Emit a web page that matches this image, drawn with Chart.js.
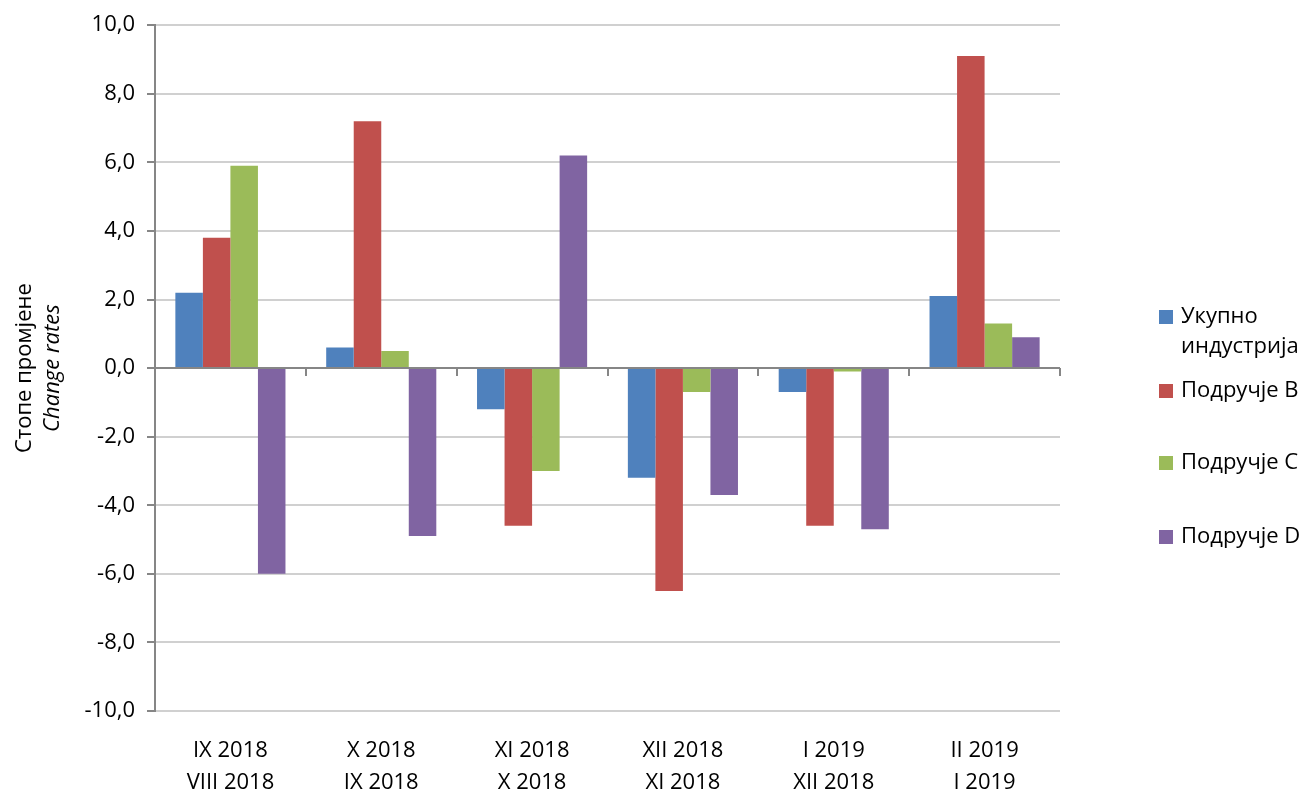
<!DOCTYPE html>
<html>
<head>
<meta charset="utf-8">
<script src="https://cdn.jsdelivr.net/npm/chart.js@4/dist/chart.umd.min.js"></script>
<style>
  html, body { margin: 0; padding: 0; background: #fff; }
  #wrap { width: 1309px; height: 789px; }
</style>
</head>
<body>
<div id="wrap"><canvas id="chart" width="1309" height="789"></canvas></div>
<script>
// data
const categories = [
  ['IX 2018', 'VIII 2018'],
  ['X 2018', 'IX 2018'],
  ['XI 2018', 'X 2018'],
  ['XII 2018', 'XI 2018'],
  ['I 2019', 'XII 2018'],
  ['II 2019', 'I 2019']
];
const seriesNames = [['Укупно', 'индустрија'], ['Подручје B'], ['Подручје C'], ['Подручје D']];
const totalIndustry = [2.2, 0.6, -1.2, -3.2, -0.7, 2.1];
const areaB = [3.8, 7.2, -4.6, -6.5, -4.6, 9.1];
const areaC = [5.9, 0.5, -3.0, -0.7, -0.1, 1.3];
const areaD = [-6.0, -4.9, 6.2, -3.7, -4.7, 0.9];
const colors = ['#4F81BD', '#C0504D', '#9BBB59', '#8064A2'];
const yTitle = ['Стопе промјене', 'Change rates'];

const FONT = "'Open Sans', sans-serif";
const axisGrey = '#868686';
const gridGrey = '#d0d0d0';

// y axis title (two lines, second italic), legend, and small ticks on the zero line
const extras = {
  id: 'extras',
  afterDraw(chart) {
    const ctx = chart.ctx;
    const area = chart.chartArea;
    const x = chart.scales.x, y = chart.scales.y;
    const y0 = y.getPixelForValue(0);

    // category ticks on the zero line
    ctx.save();
    ctx.strokeStyle = axisGrey;
    ctx.lineWidth = 2;
    for (let i = 1; i <= categories.length; i++) {
      const px = Math.round((x.getPixelForValue(i - 1) + x.getPixelForValue(i)) / 2);
      const xx = i === categories.length ? area.right : px;
      ctx.beginPath();
      ctx.moveTo(xx, y0);
      ctx.lineTo(xx, y0 + 8);
      ctx.stroke();
    }
    ctx.restore();

    // y title
    const midY = (area.top + area.bottom) / 2;
    ctx.save();
    ctx.translate(25, midY);
    ctx.rotate(-Math.PI / 2);
    ctx.fillStyle = '#000';
    ctx.textAlign = 'center';
    ctx.textBaseline = 'middle';
    ctx.font = '22px ' + FONT;
    ctx.fillText(yTitle[0], 0, 0);
    ctx.font = 'italic 22px ' + FONT;
    ctx.fillText(yTitle[1], 0, 28);
    ctx.restore();

    // legend
    const rowsY = [317, 391, 463, 537];
    ctx.save();
    ctx.font = '22px ' + FONT;
    ctx.textBaseline = 'middle';
    ctx.textAlign = 'left';
    chart.data.datasets.forEach((ds, i) => {
      ctx.fillStyle = ds.backgroundColor;
      ctx.fillRect(1159, rowsY[i] - 7, 14, 14);
      ctx.fillStyle = '#000';
      seriesNames[i].forEach((line, j) => {
        ctx.fillText(line, 1181, rowsY[i] + j * 30);
      });
    });
    ctx.restore();
  }
};

const datasets = [totalIndustry, areaB, areaC, areaD].map((vals, i) => ({
  label: seriesNames[i].join(' '),
  data: vals,
  backgroundColor: colors[i],
  borderWidth: 0,
  categoryPercentage: 0.73,
  barPercentage: 1.0
}));

new Chart(document.getElementById('chart'), {
  type: 'bar',
  data: { labels: categories, datasets: datasets },
  plugins: [extras],
  options: {
    responsive: false,
    animation: false,
    layout: { padding: { top: 25, right: 249, left: 0, bottom: 0 } },
    plugins: {
      legend: { display: false },
      tooltip: { enabled: false }
    },
    scales: {
      x: {
        grid: { display: false },
        border: { display: false },
        ticks: { color: '#000', font: { family: FONT, size: 22, lineHeight: 1.45 }, padding: 16 },
        afterFit(scale) { scale.height = 789 - 711; }
      },
      y: {
        min: -10,
        max: 10,
        border: { color: axisGrey, width: 2 },
        grid: {
          color: ctx => (ctx.tick && ctx.tick.value === 0 ? axisGrey : gridGrey),
          lineWidth: 2,
          tickLength: 8,
          tickColor: axisGrey
        },
        ticks: {
          stepSize: 2,
          color: '#000',
          padding: 12,
          font: { family: FONT, size: 22 },
          callback: v => v.toFixed(1).replace('.', ',')
        },
        afterFit(scale) { scale.width = 155; }
      }
    }
  }
});
</script>
</body>
</html>
